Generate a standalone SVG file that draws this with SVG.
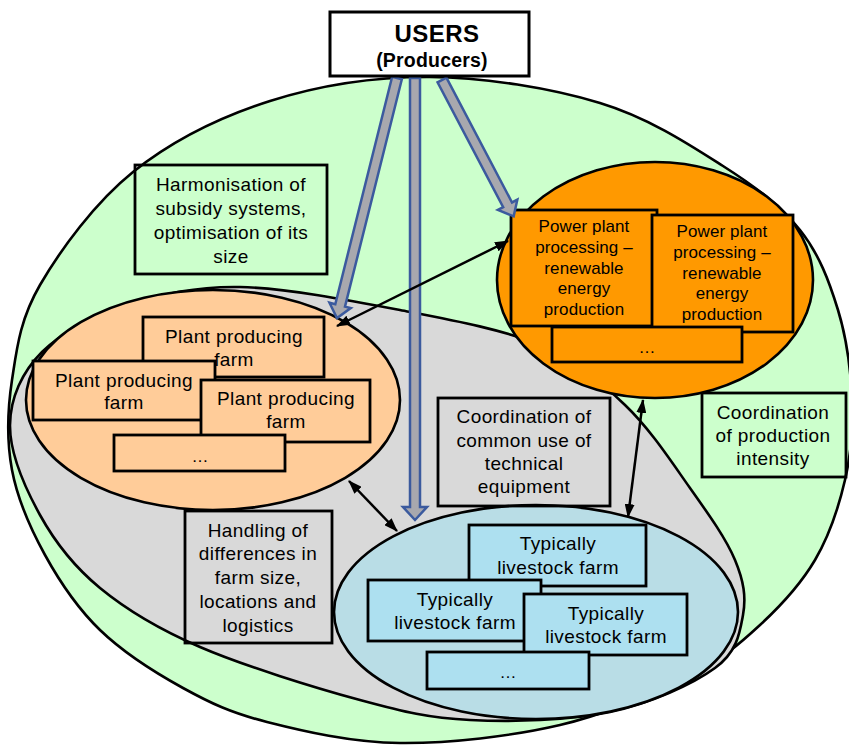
<svg xmlns="http://www.w3.org/2000/svg" width="849" height="745" viewBox="0 0 849 745">
<defs>
<style>
.ol{stroke:#000;stroke-width:2.6}
.bx{stroke:#000;stroke-width:2.8}
.nf{fill:none}
.t{font-family:"Liberation Sans",Arial,sans-serif;font-size:19px;letter-spacing:0.4px;text-anchor:middle;fill:#000}
.p{font-size:17px;letter-spacing:0.1px}
.plant{fill:#ffcc99}
.power{fill:#ff9900}
.live{fill:#ade0f0}
.blk{fill:#a8a8ae;stroke:#3b5a9e;stroke-width:2.5;stroke-linejoin:miter}
.dbl{stroke:#000;stroke-width:2.5;fill:none;marker-start:url(#ah);marker-end:url(#ah)}
</style>
<marker id="ah" viewBox="0 0 14 10" refX="13" refY="5" markerWidth="14" markerHeight="10" markerUnits="userSpaceOnUse" orient="auto-start-reverse"><path d="M0,0 L14,5 L0,10 z" fill="#000"/></marker>
</defs>
<rect width="849" height="745" fill="#fff"/>

<g id="outer-region">
<path d="M430,77 C485,77.3 551.2,88.2 600,103 C648.8,117.8 689.7,144.8 723,166 C756.3,187.2 780.8,206 800,230 C819.2,254 829.3,281.7 838,310 C846.7,338.3 850.8,371.7 852,400 C853.2,428.3 851.2,453.3 845,480 C838.8,506.7 829.2,535.8 815,560 C800.8,584.2 780.8,605.8 760,625 C739.2,644.2 723.3,658.3 690,675 C656.7,691.7 608.3,713.7 560,725 C511.7,736.3 448.8,743.5 400,743 C351.2,742.5 303.2,731.2 267,722 C230.8,712.8 210.8,703.3 183,688 C155.2,672.7 123,652.2 100,630 C77,607.8 59.7,581.7 45,555 C30.3,528.3 17.5,499.2 12,470 C6.5,440.8 7.3,410.8 12,380 C16.7,349.2 19.8,319.7 40,285 C60.2,250.3 94.7,202.7 133,172 C171.3,141.3 220.5,116.8 270,101 C319.5,85.2 375,76.7 430,77 Z" fill="#ccffcc" class="ol"/>
</g>
<g id="grey-region">
<path d="M10,425 C10.3,397.8 22,372 42,352 C62,332 97,315.8 130,305 C163,294.2 195,286.2 240,287 C285,287.8 350,300.3 400,310 C450,319.7 502.5,329.2 540,345 C577.5,360.8 600,381.2 625,405 C650,428.8 671.7,462.2 690,488 C708.3,513.8 726.2,538.8 735,560 C743.8,581.2 746.3,597 743,615 C739.7,633 737.2,651.8 715,668 C692.8,684.2 650.8,703.3 610,712 C569.2,720.7 511.7,722 470,720 C428.3,718 405,712.2 360,700 C315,687.8 243.3,665.7 200,647 C156.7,628.3 126.7,610 100,588 C73.3,566 55,542.2 40,515 C25,487.8 9.7,452.2 10,425 Z" fill="#d9d9d9" class="ol"/>
</g>

<g id="harmonisation">
<rect x="135" y="165" width="192" height="109" class="bx nf"/>
<text class="t" x="231" y="191">Harmonisation of</text>
<text class="t" x="231" y="215">subsidy systems,</text>
<text class="t" x="231" y="239">optimisation of its</text>
<text class="t" x="231" y="263">size</text>
</g>
<g id="coord-intensity">
<rect x="702" y="393" width="144" height="84" class="bx nf"/>
<text class="t" x="773" y="419">Coordination</text>
<text class="t" x="773" y="442">of production</text>
<text class="t" x="773" y="465">intensity</text>
</g>

<g id="plant-farms">
<ellipse cx="213" cy="400" rx="187" ry="110" class="plant ol"/>
<rect x="143" y="317" width="181" height="60" class="plant bx"/>
<text class="t" x="234" y="343">Plant producing</text>
<text class="t" x="234" y="366">farm</text>
<rect x="33" y="361" width="182" height="59" class="plant bx"/>
<text class="t" x="124" y="387">Plant producing</text>
<text class="t" x="124" y="409">farm</text>
<rect x="201" y="380" width="169" height="62" class="plant bx"/>
<text class="t" x="286" y="405">Plant producing</text>
<text class="t" x="286" y="428">farm</text>
<rect x="114" y="435" width="171" height="36" class="plant bx"/>
<text class="t p" x="200" y="462">…</text>
</g>

<g id="power-plants">
<ellipse cx="655" cy="280" rx="158" ry="118" class="power ol"/>
<rect x="511" y="210" width="146" height="116" class="power bx"/>
<text class="t p" x="584" y="232">Power plant</text>
<text class="t p" x="584" y="253">processing –</text>
<text class="t p" x="584" y="274">renewable</text>
<text class="t p" x="584" y="294">energy</text>
<text class="t p" x="584" y="315">production</text>
<rect x="652" y="215" width="141" height="117" class="power bx"/>
<text class="t p" x="722" y="237">Power plant</text>
<text class="t p" x="722" y="258">processing –</text>
<text class="t p" x="722" y="279">renewable</text>
<text class="t p" x="722" y="299">energy</text>
<text class="t p" x="722" y="320">production</text>
<rect x="552" y="327" width="190" height="35" class="power bx"/>
<text class="t p" x="647" y="353">…</text>
</g>

<g id="livestock-farms">
<ellipse cx="536" cy="612" rx="202" ry="107" fill="#b9dde6" class="ol"/>
<rect x="469" y="525" width="177" height="61" class="live bx"/>
<text class="t" x="558" y="550">Typically</text>
<text class="t" x="558" y="574">livestock farm</text>
<rect x="368" y="580" width="173" height="61" class="live bx"/>
<text class="t" x="455" y="606">Typically</text>
<text class="t" x="455" y="629">livestock farm</text>
<rect x="524" y="594" width="163" height="61" class="live bx"/>
<text class="t" x="606" y="620">Typically</text>
<text class="t" x="606" y="643">livestock farm</text>
<rect x="427" y="652" width="162" height="37" class="live bx"/>
<text class="t p" x="508" y="678">…</text>
</g>

<g id="coord-equipment">
<rect x="438" y="398" width="172" height="108" class="bx nf"/>
<text class="t" x="524" y="423">Coordination of</text>
<text class="t" x="524" y="447">common use of</text>
<text class="t" x="524" y="470">technical</text>
<text class="t" x="524" y="493">equipment</text>
</g>
<g id="handling">
<rect x="185" y="511" width="147" height="132" class="bx nf"/>
<text class="t" x="258" y="537">Handling of</text>
<text class="t" x="258" y="560">differences in</text>
<text class="t" x="258" y="584">farm size,</text>
<text class="t" x="258" y="608">locations and</text>
<text class="t" x="258" y="632">logistics</text>
</g>

<g id="connectors">
<polygon class="blk" transform="translate(397 78) rotate(104.04)" points="0,-5 234.4,-5 234.4,-11 247.4,0 234.4,11 234.4,5 0,5"/>
<polygon class="blk" transform="translate(415 78) rotate(90)" points="0,-5 429,-5 429,-12 442,0 429,12 429,5 0,5"/>
<polygon class="blk" transform="translate(442 80) rotate(62.27)" points="0,-5 141,-5 141,-11 154,0 141,11 141,5 0,5"/>
<line class="dbl" x1="337" y1="326" x2="508" y2="241"/>
<line class="dbl" x1="349" y1="481" x2="397" y2="531"/>
<line class="dbl" x1="643" y1="400" x2="628" y2="517"/>
</g>

<g id="users">
<rect x="330" y="12" width="199" height="64" fill="#fff" stroke="#000" stroke-width="3"/>
<text class="t" x="437" y="42" style="font-weight:bold;font-size:24px;letter-spacing:0.5px">USERS</text>
<text class="t" x="432" y="67" style="font-weight:bold;font-size:19.5px;letter-spacing:0.2px">(Producers)</text>
</g>
</svg>
